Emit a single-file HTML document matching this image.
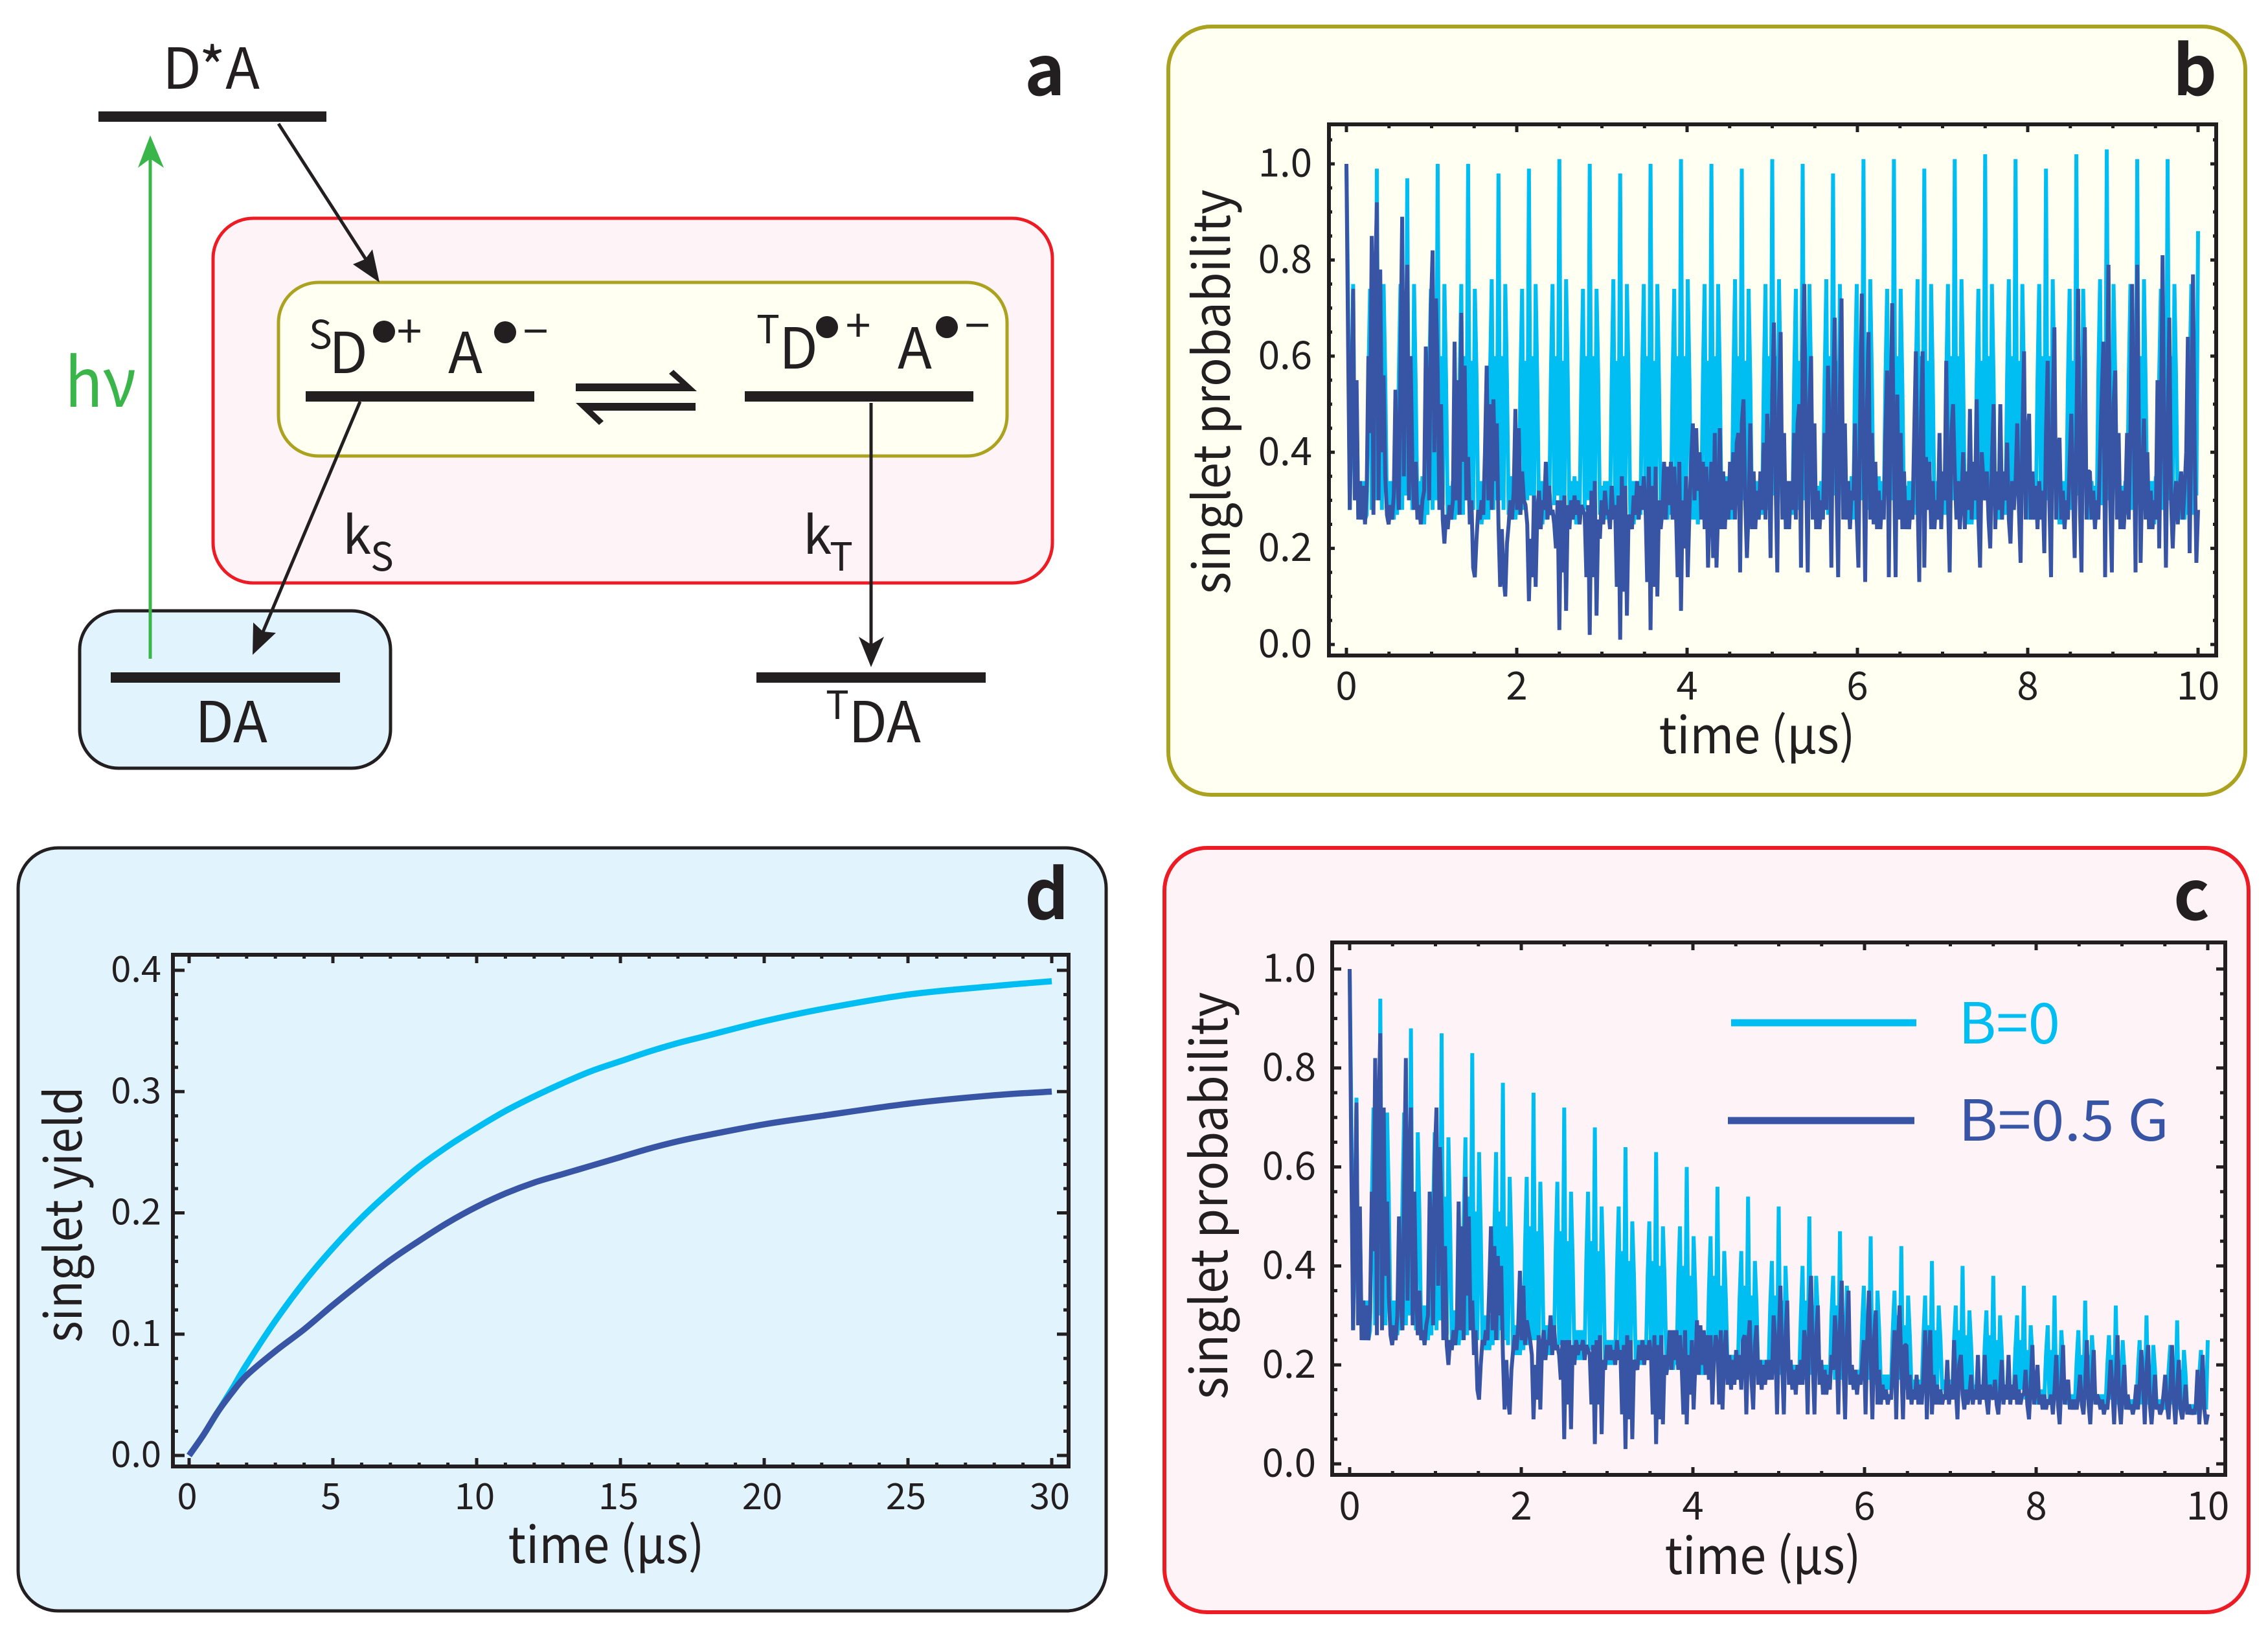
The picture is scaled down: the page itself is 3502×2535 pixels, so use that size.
<!DOCTYPE html>
<html lang="en">
<head>
<meta charset="utf-8">
<title>Radical pair singlet dynamics</title>
<style>
html,body{margin:0;padding:0;background:#fff}
svg{display:block}
text{font-family:"Noto Sans CJK JP","Liberation Sans",sans-serif;fill:#231f20}
</style>
</head>
<body>
<svg id="figure" xmlns="http://www.w3.org/2000/svg" width="3502" height="2535" viewBox="0 0 3502 2535">
<rect x="0" y="0" width="3502" height="2535" fill="#ffffff"/>

<g id="panel-a">
  <rect x="329" y="337" width="1296" height="563" rx="62" ry="62" fill="#fef3f7" stroke="#ed1c24" stroke-width="5"/>
  <rect x="430" y="436" width="1125" height="268" rx="62" ry="62" fill="#fffff2" stroke="#aba21f" stroke-width="5"/>
  <rect x="123" y="943" width="480" height="243" rx="60" ry="60" fill="#e1f4fd" stroke="#231f20" stroke-width="5"/>

  <rect x="152" y="172" width="352" height="16" fill="#231f20"/>
  <rect x="472" y="604" width="353" height="16" fill="#231f20"/>
  <rect x="1150" y="604" width="353" height="16" fill="#231f20"/>
  <rect x="171" y="1038" width="354" height="16" fill="#231f20"/>
  <rect x="1168" y="1038" width="354" height="16" fill="#231f20"/>

  <line x1="232" y1="1017" x2="232" y2="240" stroke="#39b54a" stroke-width="5"/>
  <polygon points="232,209 253,259 232,245 213,259" fill="#39b54a"/>
  <text x="100" y="628" font-size="104" style="fill:#39b54a" textLength="110" lengthAdjust="spacingAndGlyphs">hν</text>

  <line x1="430" y1="191" x2="566" y2="402" stroke="#231f20" stroke-width="5"/>
  <polygon points="586,436 575,385 564,400 545,408" fill="#231f20"/>
  <line x1="556" y1="620" x2="402" y2="985" stroke="#231f20" stroke-width="5"/>
  <polygon points="390,1011 426,977 406,975 391,961" fill="#231f20"/>
  <line x1="1345" y1="622" x2="1345" y2="1000" stroke="#231f20" stroke-width="5"/>
  <polygon points="1345,1030 1326,983 1345,995 1365,983" fill="#231f20"/>

  <polygon points="889,592 1050,592 1033,577 1040,571 1076,604 889,604" fill="#231f20"/>
  <polygon points="1074,622 889,622 925,656 932,650 915,634 1074,634" fill="#231f20"/>

  <text x="326" y="137" font-size="87" text-anchor="middle">D*A</text>
  <text x="1582" y="147" font-size="106" font-weight="700">a</text>

  <text x="477" y="538" font-size="60">S</text>
  <text x="508" y="576" font-size="87">D</text>
  <ellipse cx="593" cy="512" rx="17" ry="17" fill="#231f20"/>
  <text x="632" y="537" font-size="70" text-anchor="middle">+</text>
  <text x="692" y="576" font-size="87">A</text>
  <ellipse cx="780" cy="513" rx="17" ry="17" fill="#231f20"/>
  <text x="827" y="537" font-size="70" text-anchor="middle">−</text>

  <text x="1168" y="530" font-size="60">T</text>
  <text x="1203" y="569" font-size="87">D</text>
  <ellipse cx="1277" cy="505" rx="17" ry="17" fill="#231f20"/>
  <text x="1325" y="528" font-size="70" text-anchor="middle">+</text>
  <text x="1386" y="569" font-size="87">A</text>
  <ellipse cx="1462" cy="505" rx="17" ry="17" fill="#231f20"/>
  <text x="1509" y="528" font-size="70" text-anchor="middle">−</text>

  <text x="529" y="855" font-size="80">k</text>
  <text x="572" y="881" font-size="60">S</text>
  <text x="1240" y="855" font-size="80">k</text>
  <text x="1281" y="881" font-size="60">T</text>

  <text x="357" y="1146" font-size="87" text-anchor="middle">DA</text>
  <text x="1275" y="1110" font-size="60">T</text>
  <text x="1366" y="1146" font-size="87" text-anchor="middle">DA</text>
</g>

<rect x="1804" y="41" width="1663" height="1186" rx="66" ry="66" fill="#fffff2" stroke="#aba21f" stroke-width="6"/>
<rect x="1798" y="1309" width="1674" height="1180" rx="66" ry="66" fill="#fef3f7" stroke="#ed1c24" stroke-width="6"/>
<rect x="28" y="1309" width="1680" height="1178" rx="62" ry="62" fill="#e1f4fd" stroke="#231f20" stroke-width="5"/>

<g id="chart-b"></g>
<g id="chart-c"></g>
<g id="chart-d"></g>

<text x="3355" y="147" font-size="106" font-weight="700">b</text>
<text x="3356" y="1420" font-size="106" font-weight="700">c</text>
<text x="1582" y="1419" font-size="106" font-weight="700">d</text>

<g id="legend">
  <g>
    <line x1="2673" y1="1579" x2="2959" y2="1579" stroke="#00bdf2" stroke-width="11"/>
    <text x="3024" y="1611" font-size="87" style="fill:#00bdf2" textLength="157" lengthAdjust="spacingAndGlyphs">B=0</text>
  </g>
  <g>
    <line x1="2668" y1="1730" x2="2956" y2="1730" stroke="#3854a5" stroke-width="11"/>
    <text x="3024" y="1761" font-size="87" style="fill:#3854a5" textLength="325" lengthAdjust="spacingAndGlyphs">B=0.5 G</text>
  </g>
</g>

<script>
// Singlet probability traces, in percent. One row per revival cycle.
const bZeroField = [
100,72,28,46,75,30,52,27,34,26,34,26,27,55,74,28,58,30,
99,30,60,28,75,55,27,34,26,34,26,34,27,56,75,28,59,31,
97,31,58,28,75,54,27,34,26,35,25,34,27,55,74,28,60,30,
100,30,60,29,75,55,26,33,26,34,26,33,27,55,75,27,60,31,
100,31,59,28,74,56,27,34,25,34,26,34,26,56,76,28,60,30,
98,30,60,28,75,55,27,35,26,33,26,34,27,55,74,28,59,30,
99,31,60,27,75,54,27,34,25,34,26,35,27,56,75,29,60,31,
101,30,59,28,76,55,26,34,26,35,25,34,27,55,74,28,60,30,
100,31,60,28,74,56,27,33,26,34,26,34,26,55,76,28,59,30,
98,30,60,29,75,55,27,34,25,34,26,33,27,56,75,27,60,31,
100,31,59,28,75,54,27,35,26,33,26,34,27,55,74,28,60,30,
101,30,60,28,76,55,26,34,26,34,25,35,27,56,75,28,59,30,
100,31,60,27,75,56,27,34,25,35,26,34,26,55,76,29,60,31,
99,30,59,28,74,55,27,33,26,34,26,34,27,55,75,28,60,30,
101,31,60,28,76,54,27,34,26,34,25,33,27,56,74,28,59,30,
100,30,60,29,75,55,26,35,25,33,26,34,27,55,76,27,60,31,
98,31,59,28,75,56,27,34,26,34,26,35,26,56,75,28,60,30,
101,30,60,28,76,55,27,34,25,35,25,34,27,55,74,28,59,30,
101,31,60,27,74,54,27,33,26,34,26,34,27,56,76,29,60,31,
99,30,59,28,75,55,26,34,26,34,26,33,27,55,75,28,60,30,
101,31,60,28,76,56,27,35,25,33,25,34,26,55,74,28,59,30,
102,30,60,29,75,55,27,34,26,34,26,35,27,56,76,27,60,31,
101,31,59,28,75,54,27,34,26,35,26,34,27,55,75,28,60,30,
99,30,60,28,76,55,26,33,25,34,25,34,27,55,74,28,59,30,
102,31,60,27,74,56,27,34,26,34,26,33,26,56,76,29,60,31,
103,30,59,28,75,55,27,35,26,33,26,34,27,55,75,28,60,30,
101,31,60,28,76,54,27,34,25,34,25,35,27,56,74,28,59,30,
101,30,60,29,75,55,26,34,26,35,26,34,27,55,75,27,60,31,
86];
const bHalfGauss = [
100,62,28,52,74,30,55,26,34,26,33,25,32,60,44,85,27,76,
92,30,78,40,56,35,27,25,29,26,31,53,36,28,60,89,35,65,
79,30,60,38,28,38,26,29,25,30,32,62,50,30,70,82,40,72,
57,28,50,26,21,27,24,29,26,30,63,30,55,27,69,38,58,30,
39,25,30,16,14,22,28,26,30,27,40,58,30,50,28,51,34,46,
25,12,24,14,10,21,25,30,26,32,49,28,45,27,36,30,29,25,
9,22,14,31,12,28,32,24,30,28,38,26,33,27,28,25,20,30,
3,30,15,31,7,29,24,30,26,31,27,30,25,29,28,27,14,29,
2,32,14,34,6,26,22,30,25,32,27,28,24,33,26,29,12,31,
1,35,11,33,6,27,26,24,31,27,34,26,33,28,35,29,13,37,
3,33,12,37,10,30,24,28,38,26,37,29,38,26,37,28,14,38,
7,30,20,35,14,28,38,46,30,45,32,40,26,38,24,37,16,30,
38,18,44,16,28,45,24,36,24,34,26,38,28,40,26,42,44,15,
46,51,30,18,28,46,24,36,24,32,26,36,28,42,26,48,40,18,
52,67,34,15,50,65,26,44,24,34,24,34,28,44,26,46,50,16,
60,75,36,15,50,60,26,46,24,32,24,30,26,44,28,58,42,16,
52,68,34,14,52,72,26,46,26,34,24,32,30,46,26,16,48,73,
40,13,48,65,26,44,25,38,24,32,24,30,26,44,57,14,46,71,
38,14,52,26,44,24,36,24,30,24,30,26,44,61,30,13,46,61,
16,39,28,38,24,34,24,30,26,44,24,36,30,59,30,15,44,50,
36,26,34,24,30,40,24,36,28,49,26,38,30,51,26,16,40,34,
30,36,26,20,38,50,24,36,28,50,26,36,30,42,26,21,34,28,
34,46,28,17,44,61,26,42,48,26,36,26,33,24,34,26,32,19,
44,59,30,14,50,66,26,40,43,26,32,24,30,26,38,48,32,18,
44,74,30,15,50,66,26,36,36,26,32,24,30,26,40,52,63,14,
50,79,30,15,50,57,26,44,24,32,24,30,44,26,44,75,44,15,
79,44,17,36,47,26,40,24,32,24,30,26,55,20,44,81,42,16,
44,68,30,20,30,34,25,32,36,26,32,40,64,19,44,77,40,17,
28];
const cZeroField = [
100,70,27,45,74,30,50,27,33,25,33,25,27,53,72,28,56,30,
94,30,58,28,71,53,27,33,26,33,26,33,27,53,71,28,58,30,
88,29,55,27,67,50,26,32,25,32,25,32,26,50,67,27,55,29,
87,28,54,26,66,49,25,31,24,31,24,31,25,49,66,26,54,28,
83,27,51,25,63,47,24,30,23,30,23,30,24,47,63,25,51,27,
77,25,48,24,58,44,23,28,22,28,22,28,23,44,58,24,48,25,
75,25,47,24,57,43,23,28,22,28,22,28,23,43,57,24,47,25,
72,24,45,23,55,41,22,27,21,27,21,27,22,41,55,23,45,24,
68,23,43,21,52,39,21,25,20,25,20,25,21,39,52,21,43,23,
64,23,41,21,49,38,21,25,20,25,20,25,21,38,49,21,41,23,
63,22,40,20,48,37,20,24,19,24,19,24,20,37,48,20,40,22,
60,21,38,19,46,35,19,23,18,23,18,23,19,35,46,19,38,21,
56,20,36,19,43,33,19,22,18,22,18,22,19,33,43,19,36,20,
54,19,34,18,41,32,18,21,17,21,17,21,18,32,41,18,34,19,
52,18,33,17,40,30,17,20,16,20,16,20,17,30,40,17,33,18,
50,18,32,17,38,30,17,20,16,20,16,20,17,30,38,17,32,18,
47,17,30,16,36,28,16,19,15,19,15,19,16,28,36,16,30,17,
46,17,30,16,35,27,16,18,15,18,15,18,16,27,35,16,30,17,
44,16,28,15,34,26,15,17,14,17,14,17,15,26,34,15,28,16,
41,16,27,15,32,25,15,17,14,17,14,17,15,25,32,15,27,16,
40,15,26,14,31,24,14,16,13,16,13,16,14,24,31,14,26,15,
38,15,25,14,30,23,14,16,13,16,13,16,14,23,30,14,25,15,
36,13,23,13,28,22,13,15,12,15,12,15,13,22,28,13,23,13,
34,13,22,13,27,21,12,14,12,14,12,14,12,21,27,13,22,13,
33,13,22,13,26,20,12,14,12,14,12,14,12,20,26,13,22,13,
32,12,21,12,25,19,11,13,11,13,11,13,11,19,25,12,21,12,
30,12,20,12,24,19,11,13,11,13,11,13,11,19,24,12,20,12,
29,11,19,11,23,18,10,12,10,12,10,12,10,18,23,11,19,11,
25];
const cHalfGauss = [
100,60,27,50,73,28,52,25,33,25,32,25,31,55,43,82,26,72,
87,27,72,38,53,34,26,24,28,25,30,50,34,27,56,82,33,60,
72,28,55,35,26,35,25,27,24,28,30,55,46,28,62,72,36,64,
51,25,44,24,20,25,23,27,24,28,53,27,48,25,58,34,50,27,
33,22,27,15,13,20,25,24,27,25,36,48,27,44,25,42,30,40,
22,11,21,13,10,19,23,26,23,28,39,25,36,24,29,27,25,22,
9,20,13,26,11,24,27,21,25,24,30,22,28,23,24,22,17,25,
5,25,12,25,7,24,20,25,22,24,23,25,21,24,23,22,12,24,
4,25,12,26,6,21,19,24,21,24,21,23,20,25,21,23,10,24,
3,26,9,25,5,21,20,19,24,21,25,20,24,21,25,22,10,26,
4,24,9,26,8,22,18,21,27,19,27,21,27,19,26,20,10,27,
8,22,14,25,11,20,29,18,28,20,27,18,26,17,26,12,21,26,
24,12,27,11,22,27,16,22,15,21,16,23,17,22,15,25,26,10,
24,29,17,11,24,28,16,21,15,20,16,21,17,21,17,30,25,10,
25,36,20,10,26,33,16,21,15,19,14,20,16,21,16,27,24,10,
30,38,20,10,26,32,16,21,14,19,14,18,15,22,19,30,24,10,
28,37,20,9,26,35,16,20,15,19,14,18,16,20,25,10,25,35,
22,9,25,31,12,19,12,16,13,15,12,14,13,20,27,9,24,32,
20,9,24,24,13,18,12,15,13,18,12,16,12,18,27,9,20,27,
10,18,12,16,12,15,12,14,13,21,12,16,13,25,15,9,20,22,
14,11,15,12,14,18,12,15,13,22,12,16,13,22,13,10,16,14,
13,17,12,10,15,21,12,16,13,22,12,16,13,18,12,15,12,14,
14,19,12,9,16,24,12,15,20,12,14,11,14,11,13,12,14,10,
15,22,12,8,16,24,12,15,17,11,13,11,13,11,14,18,12,10,
16,25,12,8,16,23,12,14,13,11,13,10,12,11,15,21,15,8,
17,26,12,8,15,20,11,14,11,12,10,12,16,11,16,23,16,8,
19,24,12,8,13,18,11,12,10,11,14,18,12,9,15,24,13,8,
15,21,11,9,12,16,10,12,10,11,10,12,19,8,14,22,11,8,
10];

// Singlet yield curves.
const dTimes = [0,0.5,1,1.5,2,3,4,5,6,7,8,9,10,11,12,13,14,15,16,17,18,20,22,25,28,30];
const dZeroField = [0,0.017,0.036,0.055,0.075,0.111,0.143,0.171,0.196,0.218,0.238,0.255,0.27,0.284,0.296,0.307,0.317,0.325,0.333,0.34,0.346,0.358,0.368,0.38,0.387,0.391];
const dHalfGauss = [0,0.017,0.036,0.052,0.066,0.086,0.104,0.124,0.143,0.161,0.177,0.192,0.205,0.216,0.225,0.232,0.239,0.246,0.253,0.259,0.264,0.273,0.28,0.29,0.297,0.3];

// Tick labels.
const traceXTicks = ['0','2','4','6','8','10'];
const traceYTicks = ['0.0','0.2','0.4','0.6','0.8','1.0'];
const yieldXTicks = ['0','5','10','15','20','25','30'];
const yieldYTicks = ['0.0','0.1','0.2','0.3','0.4'];

const SVG_NS = 'http://www.w3.org/2000/svg';
const INK = '#231f20';
const ZERO_COLOR = '#00bdf2';
const HALF_COLOR = '#3854a5';

function node(parent, tag, attrs) {
  const el = document.createElementNS(SVG_NS, tag);
  for (const key in attrs) el.setAttribute(key, attrs[key]);
  parent.appendChild(el);
  return el;
}

function drawTicks(group, frame, sx, sy) {
  for (let i = 0; ; i++) {
    const value = i * frame.xMinor;
    if (value > frame.xMax + 1e-9) break;
    const isMajor = i % frame.xEvery === 0;
    const len = isMajor ? frame.xMajorLen : frame.xMinorLen;
    const bottomTick = node(group, 'line', {x1: sx(value), x2: sx(value), y1: frame.bottom, y2: frame.bottom - len, stroke: INK, 'stroke-width': 5});
    
    
    const topTick = node(group, 'line', {x1: sx(value), x2: sx(value), y1: frame.top, y2: frame.top + len, stroke: INK, 'stroke-width': 5});
    
    
  }
  for (let i = 0; ; i++) {
    const value = i * frame.yMinor;
    if (value > frame.yLimit) break;
    const isMajor = i % frame.yEvery === 0;
    const len = isMajor ? frame.yMajorLen : frame.yMinorLen;
    const leftTick = node(group, 'line', {x1: frame.left, x2: frame.left + len, y1: sy(value), y2: sy(value), stroke: INK, 'stroke-width': 5});
    
    
    const rightTick = node(group, 'line', {x1: frame.right, x2: frame.right - len, y1: sy(value), y2: sy(value), stroke: INK, 'stroke-width': 5});
    
    
  }
}

function drawLabels(group, frame, sx, sy, xLabels, yLabels) {
  xLabels.forEach(function (label) {
    const t = node(group, 'text', {x: sx(parseFloat(label)) + frame.xLabelShift, y: frame.xLabelY, 'font-size': frame.tickFont, 'text-anchor': 'middle'});
    t.textContent = label;
    
    
  });
  yLabels.forEach(function (label) {
    const t = node(group, 'text', {x: frame.yLabelX, y: sy(parseFloat(label)) + frame.tickFont * 0.36 - 2, 'font-size': frame.tickFont, 'text-anchor': 'end'});
    t.textContent = label;
    
    
  });
  const xTitle = node(group, 'text', {x: frame.xTitleX, y: frame.xTitleY, 'font-size': 78, 'text-anchor': 'middle', textLength: 303, lengthAdjust: 'spacingAndGlyphs'});
  xTitle.textContent = 'time (µs)';
  
  
  const yTitle = node(group, 'text', {x: 0, y: 0, 'font-size': 78, 'text-anchor': 'middle', transform: 'translate(' + frame.yTitleX + ' ' + frame.yTitleY + ') rotate(-90)', textLength: frame.yTitleLen, lengthAdjust: 'spacingAndGlyphs'});
  yTitle.textContent = frame.yTitle;
  
  
}

function tracePath(values, sx, sy, xMax) {
  let d = '';
  values.forEach(function (v, i) {
    const t = xMax * i / (values.length - 1);
    d += (i ? 'L' : 'M') + sx(t).toFixed(1) + ' ' + sy(v * 0.01).toFixed(1);
  });
  return d;
}

function smoothPath(times, values, sx, sy) {
  const pts = times.map(function (t, i) { return [sx(t), sy(values[i])]; });
  let d = 'M' + pts[0][0].toFixed(1) + ' ' + pts[0][1].toFixed(1);
  for (let i = 0; i < pts.length - 1; i++) {
    const p0 = pts[Math.max(i - 1, 0)];
    const p1 = pts[i];
    const p2 = pts[i + 1];
    const p3 = pts[Math.min(i + 2, pts.length - 1)];
    const c1x = p1[0] + (p2[0] - p0[0]) / 6;
    const c1y = p1[1] + (p2[1] - p0[1]) / 6;
    const c2x = p2[0] - (p3[0] - p1[0]) / 6;
    const c2y = p2[1] - (p3[1] - p1[1]) / 6;
    d += 'C' + c1x.toFixed(1) + ' ' + c1y.toFixed(1) + ' ' + c2x.toFixed(1) + ' ' + c2y.toFixed(1) + ' ' + p2[0].toFixed(1) + ' ' + p2[1].toFixed(1);
  }
  return d;
}

function drawFrame(group, frame) {
  const box = node(group, 'rect', {x: frame.left, y: frame.top, width: frame.right - frame.left, height: frame.bottom - frame.top, fill: 'none', stroke: INK, 'stroke-width': 6});
  
  
}

const frameB = {left: 2052, right: 3422, top: 192, bottom: 1012, x0: 2079, x1: 3394, xMax: 10, y0: 995, y1: 253, yMax: 1,
  xMinor: 0.5, xEvery: 4, yMinor: 0.05, yEvery: 4, yLimit: 1.06, xMajorLen: 12, xMinorLen: 6, yMajorLen: 9, yMinorLen: 5,
  tickFont: 60, xLabelY: 1080, xLabelShift: 0, yLabelX: 2026, xTitleX: 2713, xTitleY: 1163, yTitleX: 1899, yTitleY: 605, yTitleLen: 625, yTitle: 'singlet probability'};
const frameC = {left: 2057, right: 3436, top: 1455, bottom: 2277, x0: 2084, x1: 3409, xMax: 10, y0: 2260, y1: 1496, yMax: 1,
  xMinor: 0.5, xEvery: 4, yMinor: 0.05, yEvery: 4, yLimit: 1.03, xMajorLen: 12, xMinorLen: 6, yMajorLen: 14, yMinorLen: 8,
  tickFont: 60, xLabelY: 2346, xLabelShift: 0, yLabelX: 2032, xTitleX: 2722, xTitleY: 2430, yTitleX: 1895, yTitleY: 1846, yTitleLen: 629, yTitle: 'singlet probability'};
const frameD = {left: 267, right: 1650, top: 1474, bottom: 2264, x0: 292, x1: 1624, xMax: 30, y0: 2247, y1: 1498, yMax: 0.4,
  xMinor: 1, xEvery: 5, yMinor: 0.02, yEvery: 5, yLimit: 0.41, xMajorLen: 13, xMinorLen: 6, yMajorLen: 18, yMinorLen: 8,
  tickFont: 56, xLabelY: 2330, xLabelShift: -3, yLabelX: 249, xTitleX: 936, xTitleY: 2413, yTitleX: 126, yTitleY: 1875, yTitleLen: 395, yTitle: 'singlet yield'};

function scales(frame) {
  return {
    sx: function (t) { return frame.x0 + (frame.x1 - frame.x0) * t / frame.xMax; },
    sy: function (v) { return frame.y0 + (frame.y1 - frame.y0) * v / frame.yMax; }
  };
}

function drawTraceChart(id, frame, zero, half, xLabels, yLabels) {
  const group = document.getElementById(id);
  const s = scales(frame);
  const zeroLine = node(group, 'path', {d: tracePath(zero, s.sx, s.sy, frame.xMax), fill: 'none', stroke: ZERO_COLOR, 'stroke-width': 6, 'stroke-linejoin': 'bevel'});
  
  
  const halfLine = node(group, 'path', {d: tracePath(half, s.sx, s.sy, frame.xMax), fill: 'none', stroke: HALF_COLOR, 'stroke-width': 6, 'stroke-linejoin': 'bevel'});
  
  
  drawFrame(group, frame);
  drawTicks(group, frame, s.sx, s.sy);
  drawLabels(group, frame, s.sx, s.sy, xLabels, yLabels);
}

function drawYieldChart(id, frame) {
  const group = document.getElementById(id);
  const s = scales(frame);
  drawFrame(group, frame);
  drawTicks(group, frame, s.sx, s.sy);
  const zeroLine = node(group, 'path', {d: smoothPath(dTimes, dZeroField, s.sx, s.sy), fill: 'none', stroke: ZERO_COLOR, 'stroke-width': 9.5, 'stroke-linejoin': 'round'});
  
  
  const halfLine = node(group, 'path', {d: smoothPath(dTimes, dHalfGauss, s.sx, s.sy), fill: 'none', stroke: HALF_COLOR, 'stroke-width': 9.5, 'stroke-linejoin': 'round'});
  
  
  drawLabels(group, frame, s.sx, s.sy, yieldXTicks, yieldYTicks);
}

drawTraceChart('chart-b', frameB, bZeroField, bHalfGauss, traceXTicks, traceYTicks);
drawTraceChart('chart-c', frameC, cZeroField, cHalfGauss, traceXTicks, traceYTicks);
drawYieldChart('chart-d', frameD);
</script>
</svg>
</body>
</html>
